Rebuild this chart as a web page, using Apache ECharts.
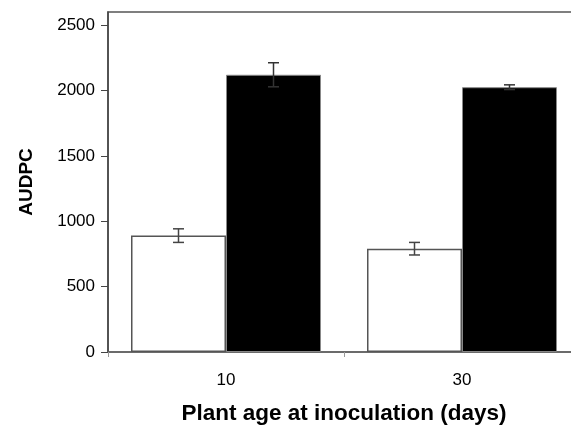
<!DOCTYPE html>
<html>
<head>
<meta charset="utf-8">
<script src="https://cdn.jsdelivr.net/npm/echarts@6/dist/echarts.min.js"></script>
<style>
  html, body { margin: 0; padding: 0; background: #fff; overflow: hidden; }
  #chart { width: 580px; height: 426px; }
</style>
</head>
<body>
<div id="chart"></div>
<script>
// Plant age groups (days) on the x axis
const categories = ['10', '30'];
// Mean AUDPC per group and its error half-width
const openMeans = [890, 790];
const openErrors = [52, 48];
const filledMeans = [2120, 2025];
const filledErrors = [92, 18];
// Value-axis ticks
const yTicks = [0, 500, 1000, 1500, 2000, 2500];

const BAR_W = 95;
const FONT = '"Liberation Sans", Arial, sans-serif';

function errorSeries(means, errors, side, color) {
  return {
    type: 'custom',
    z: 5,
    silent: true,
    data: means.map((m, i) => [i, m - errors[i], m + errors[i]]),
    renderItem: function (params, api) {
      const ci = api.value(0);
      const lo = api.coord([ci, api.value(1)]);
      const hi = api.coord([ci, api.value(2)]);
      const x = lo[0] + side * BAR_W / 2;
      const cap = 5.5;
      const style = { stroke: color, lineWidth: 1.5 };
      return {
        type: 'group',
        children: [
          { type: 'line', shape: { x1: x, y1: lo[1], x2: x, y2: hi[1] }, style: style },
          { type: 'line', shape: { x1: x - cap, y1: hi[1], x2: x + cap, y2: hi[1] }, style: style },
          { type: 'line', shape: { x1: x - cap, y1: lo[1], x2: x + cap, y2: lo[1] }, style: style }
        ]
      };
    }
  };
}

const chart = echarts.init(document.getElementById('chart'), null, { renderer: 'canvas' });
chart.setOption({
  animation: false,
  backgroundColor: '#fff',
  grid: {
    left: 108, top: 12, right: 0, bottom: 74,
    outerBoundsMode: 'none',
    containLabel: false,
    show: true, borderColor: '#555', borderWidth: 1.5, backgroundColor: 'transparent'
  },
  xAxis: {
    type: 'category',
    data: categories,
    name: 'Plant age at inoculation (days)',
    nameLocation: 'middle',
    nameGap: 50,
    nameTextStyle: { fontFamily: FONT, fontSize: 22.5, fontWeight: 'bold', color: '#000' },
    axisLine: { lineStyle: { color: '#666', width: 1.5 } },
    axisTick: { show: true, length: 5, lineStyle: { color: '#999' } },
    axisLabel: { fontFamily: FONT, fontSize: 17, color: '#000', margin: 20 }
  },
  yAxis: {
    type: 'value',
    min: yTicks[0],
    max: 2600,
    interval: yTicks[1] - yTicks[0],
    name: 'AUDPC',
    nameLocation: 'middle',
    nameGap: 72,
    nameTextStyle: { fontFamily: FONT, fontSize: 19, fontWeight: 'bold', color: '#000' },
    splitLine: { show: false },
    axisLine: { show: true, lineStyle: { color: '#444', width: 1.5 } },
    axisTick: { show: true, length: 7, lineStyle: { color: '#444' } },
    axisLabel: {
      fontFamily: FONT, fontSize: 17, color: '#000', margin: 13,
      showMaxLabel: false,
      formatter: v => (yTicks.indexOf(v) >= 0 ? String(v) : '')
    }
  },
  series: [
    {
      type: 'bar', name: 'open', data: openMeans, barWidth: BAR_W, barGap: '0%',
      itemStyle: { color: '#fff', borderColor: '#555', borderWidth: 1.5 }
    },
    {
      type: 'bar', name: 'filled', data: filledMeans, barWidth: BAR_W, barGap: '0%',
      itemStyle: { color: '#000', borderColor: '#888', borderWidth: 1 }
    },
    errorSeries(openMeans, openErrors, -1, '#444'),
    errorSeries(filledMeans, filledErrors, 1, '#333')
  ]
});
</script>
</body>
</html>
